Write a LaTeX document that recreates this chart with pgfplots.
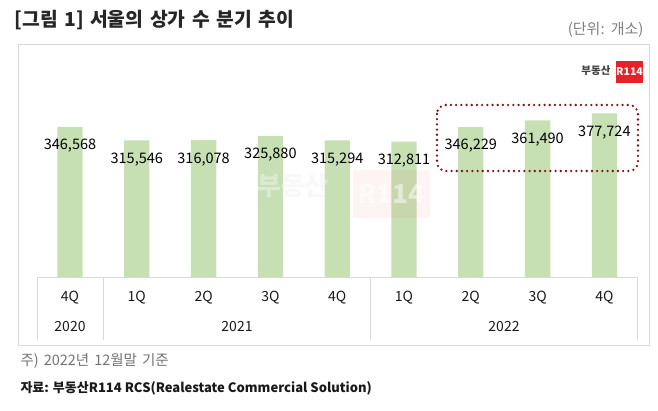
\documentclass[border=0pt]{standalone}
\usepackage{pgfplots}
\pgfplotsset{compat=1.18}
\usepackage{fontspec}
\setmainfont{Noto Sans CJK KR}
\definecolor{bargreen}{HTML}{C6E0B4}
\definecolor{framegray}{HTML}{D9D9D9}
\definecolor{boxred}{HTML}{7A1414}
\definecolor{logored}{HTML}{E52228}
\begin{document}
\begin{tikzpicture}
\path[use as bounding box] (0pt,0pt) rectangle (658pt,411pt);
\begin{scope}[yshift=411pt, x=1pt, y=-1pt]
% outer frame
\draw[framegray, line width=0.8pt] (18,44) rectangle (649,345);
% title
\node[anchor=west, font=\fontsize{19.3}{22}\selectfont\bfseries, text=black!85] at (11,20) {\spaceskip=6.5pt [그림 1] 서울의 상가 수 분기 추이};
\node[anchor=east, font=\fontsize{15}{17}\selectfont, text=black!50] at (647,30) {\spaceskip=5pt (단위: 개소)};
% logo
\node[anchor=east, font=\fontsize{10.5}{12}\selectfont\bfseries, text=black!75] at (614,71) {부동산};
\fill[logored] (616,61) rectangle (643,83);
\node[font=\fontsize{10.5}{12}\selectfont\bfseries, text=white] at (629.5,72) {R114};
\end{scope}
\begin{axis}[
  at={(36.6pt,134pt)}, anchor=south west,
  scale only axis, width=601.2pt, height=216.5pt,
  xmin=-0.5, xmax=8.5, ymin=0, ymax=500000,
  axis x line*=bottom, axis y line=none,
  x axis line style={draw=framegray, line width=0.8pt, -},
  xtick=data, xtick style={draw=none}, major tick length=0pt,
  xticklabels={4Q,1Q,2Q,3Q,4Q,1Q,2Q,3Q,4Q},
  xticklabel style={anchor=center, yshift=-21pt, font=\fontsize{14}{16}\selectfont, text=black!90},
  ybar, bar width=25.3pt,
  clip=false,
  nodes near coords={\pgfmathprintnumber[fixed, 1000 sep={,}, /pgf/number format/assume math mode=true]{\pgfplotspointmeta}},
  nodes near coords style={anchor=center, yshift=-19pt, font=\fontsize{14.5}{16}\selectfont, text=black},
  point meta=explicit,
]
\addplot[fill=bargreen, draw=none] table[x=x, y=y, meta=y] {
x y
0 346568
1 315546
2 316078
3 325880
4 315294
5 312811
6 346229
7 361490
8 377724
};
\end{axis}
\begin{scope}[yshift=411pt, x=1pt, y=-1pt]
% faint watermark (overlaid)
\node[font=\fontsize{26}{28}\selectfont\bfseries, text=black!5, opacity=0.5] at (293,186) {부동산};
\fill[logored, opacity=0.05] (353,170) rectangle (430,218);
\node[font=\fontsize{26}{28}\selectfont\bfseries, text=white, opacity=0.5] at (391.5,194) {R114};
% table lines
\foreach \xx in {37,103.4,370.6,637.8} \draw[framegray, line width=0.8pt] (\xx,277) -- (\xx,340);
% year labels
\node[font=\fontsize{14}{16}\selectfont, text=black!90] at (70,327) {2020};
\node[font=\fontsize{14}{16}\selectfont, text=black!90] at (237,327) {2021};
\node[font=\fontsize{14}{16}\selectfont, text=black!90] at (504,327) {2022};
% highlight box
\draw[boxred, line width=2.6pt, line cap=round, dash pattern=on 0pt off 5.2pt, rounded corners=9pt] (437,105) rectangle (638,171);
% footnotes
\node[anchor=west, font=\fontsize{14.5}{16}\selectfont, text=black!55] at (17,361) {\spaceskip=5pt 주) 2022년 12월말 기준};
\node[anchor=west, font=\fontsize{13}{15}\selectfont\bfseries, text=black!90] at (17,388) {자료: 부동산R114 RCS(Realestate Commercial Solution)};
\end{scope}
\end{tikzpicture}
\end{document}
